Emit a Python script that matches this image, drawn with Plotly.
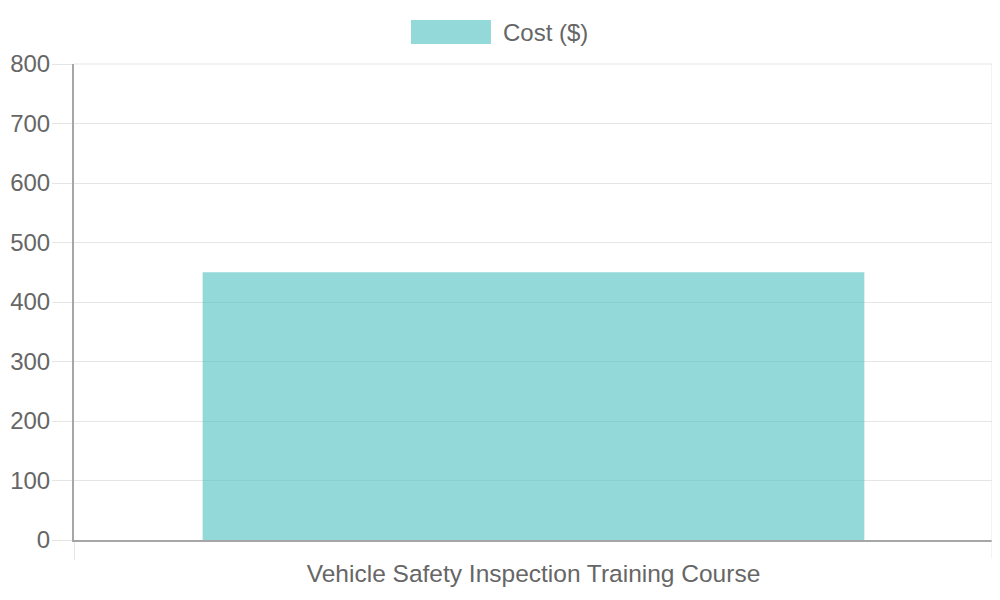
import plotly.graph_objects as go

# course cost data
courses = ["Vehicle Safety Inspection Training Course"]
costs = [450]
series_name = "Cost ($)"

bar_color = "rgba(75, 192, 192, 0.6)"
text_color = "#666666"
grid_color = "#e5e5e5"
axis_color = "#a6a6a6"

fig = go.Figure()
fig.add_trace(go.Bar(x=courses, y=costs, name=series_name,
                     marker=dict(color=bar_color, line=dict(width=0)),
                     showlegend=False))

# legend drawn by hand to look like the boxy Chart.js one
fig.add_shape(type="rect", xref="paper", yref="paper",
              x0=0.3667, x1=0.4537, y0=1.042, y1=1.0924,
              fillcolor=bar_color, line=dict(width=0))
fig.add_annotation(text=series_name, xref="paper", yref="paper",
                   x=0.4645, y=1.0672, xanchor="left", yanchor="middle",
                   showarrow=False, font=dict(size=24, color=text_color))

# top and right grid borders (plotly skips gridlines on the plot edge)
fig.add_shape(type="line", xref="paper", yref="paper", x0=0, x1=1, y0=1, y1=1,
              line=dict(color=grid_color, width=1), layer="above")
fig.add_shape(type="line", xref="paper", yref="paper", x0=0.9995, x1=0.9995,
              y0=-0.038, y1=1,
              line=dict(color=grid_color, width=2), layer="above")

# page body adds ~8px offset, so margins are shifted to compensate
fig.update_layout(
    width=1000, height=600,
    margin=dict(l=66, r=15, t=56, b=68, autoexpand=False),
    paper_bgcolor="white", plot_bgcolor="white",
    font=dict(family="Liberation Sans, Arial, sans-serif", size=24, color=text_color),
    bargap=0.28,
    showlegend=False,
)
fig.update_xaxes(type="category", tickson="boundaries", showgrid=True,
                 gridcolor=grid_color, gridwidth=1,
                 ticks="outside", ticklen=18, tickcolor=grid_color,
                 showline=True, linecolor=axis_color, linewidth=2,
                 tickfont=dict(size=24.5),
                 ticklabelstandoff=11, automargin=False)
fig.update_yaxes(range=[0, 800], dtick=100, showgrid=True,
                 gridcolor=grid_color, gridwidth=1,
                 ticks="outside", ticklen=20, tickcolor=grid_color,
                 showline=True, linecolor=axis_color, linewidth=2,
                 zeroline=False, ticklabelstandoff=-3, automargin=False)

fig.write_html("out.html")
